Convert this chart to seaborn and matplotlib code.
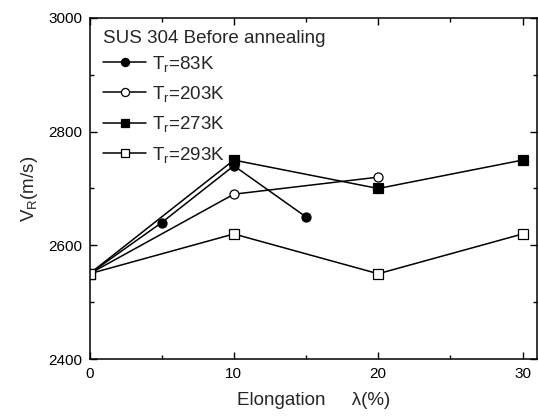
import matplotlib
matplotlib.use("Agg")
import matplotlib.pyplot as plt
from matplotlib.ticker import MultipleLocator
import pandas as pd
import seaborn as sns

# Rayleigh wave velocity vs. elongation, SUS 304 before annealing
elong_83 = [0, 5, 10, 15]
vr_83 = [2550, 2640, 2740, 2650]

elong_203 = [0, 10, 20]
vr_203 = [2550, 2690, 2720]

elong_273 = [0, 10, 20, 30]
vr_273 = [2550, 2750, 2700, 2750]

elong_293 = [0, 10, 20, 30]
vr_293 = [2550, 2620, 2550, 2620]

series_labels = ["T$_\\mathregular{r}$=83K", "T$_\\mathregular{r}$=203K",
                 "T$_\\mathregular{r}$=273K", "T$_\\mathregular{r}$=293K"]
legend_title = "SUS 304 Before annealing"

sns.set_style("ticks")
plt.rcParams["font.family"] = ["Liberation Sans", "DejaVu Sans"]
plt.rcParams["mathtext.fontset"] = "custom"
plt.rcParams["mathtext.rm"] = "Liberation Sans"
plt.rcParams["mathtext.it"] = "Liberation Sans:italic"

fig = plt.figure(figsize=(5.38, 4.19), dpi=100)
ax = fig.add_axes([89.5 / 538, 60 / 419, (537 - 89.5) / 538, (359 - 18) / 419])

styles = [
    dict(marker="o", markerfacecolor="black"),
    dict(marker="o", markerfacecolor="white"),
    dict(marker="s", markerfacecolor="black"),
    dict(marker="s", markerfacecolor="white"),
]
data = [(elong_83, vr_83), (elong_203, vr_203), (elong_273, vr_273), (elong_293, vr_293)]

for (xs, ys), lab, st in zip(data, series_labels, styles):
    df = pd.DataFrame({"elong": xs, "vr": ys})
    sns.lineplot(data=df, x="elong", y="vr", ax=ax, color="black", linewidth=1.1,
                 markersize=6.5, markeredgecolor="black", markeredgewidth=0.9,
                 label=lab, **st)

ax.set_xlim(0, 31)
ax.set_ylim(2400, 3000)
ax.xaxis.set_major_locator(MultipleLocator(10))
ax.xaxis.set_minor_locator(MultipleLocator(5))
ax.yaxis.set_major_locator(MultipleLocator(200))
ax.yaxis.set_minor_locator(MultipleLocator(100))
ax.tick_params(which="both", direction="in", top=True, right=True, width=1.0,
               labelsize=11, colors="black")
ax.tick_params(which="major", length=5)
ax.tick_params(which="minor", length=3)
ax.tick_params(axis="x", which="major", pad=6)
ax.tick_params(axis="y", which="major", pad=5)
for sp in ax.spines.values():
    sp.set_linewidth(1.1)
    sp.set_color("black")

ax.set_xlabel("Elongation     \u03bb(%)", fontsize=13.5, labelpad=8)
ax.set_ylabel("V$_\\mathregular{R}$(m/s)", fontsize=13.5, labelpad=6)

leg = ax.legend(title=legend_title, loc="upper left", bbox_to_anchor=(0.026, 0.969),
                frameon=False, fontsize=13.5, title_fontsize=13.5, handlelength=2.3,
                handletextpad=0.3, labelspacing=0.55, borderaxespad=0.0,
                borderpad=0.1, markerscale=0.9)
leg._legend_box.align = "left"
leg._legend_box.sep = 4.5

fig.savefig("out.png", dpi=100)
